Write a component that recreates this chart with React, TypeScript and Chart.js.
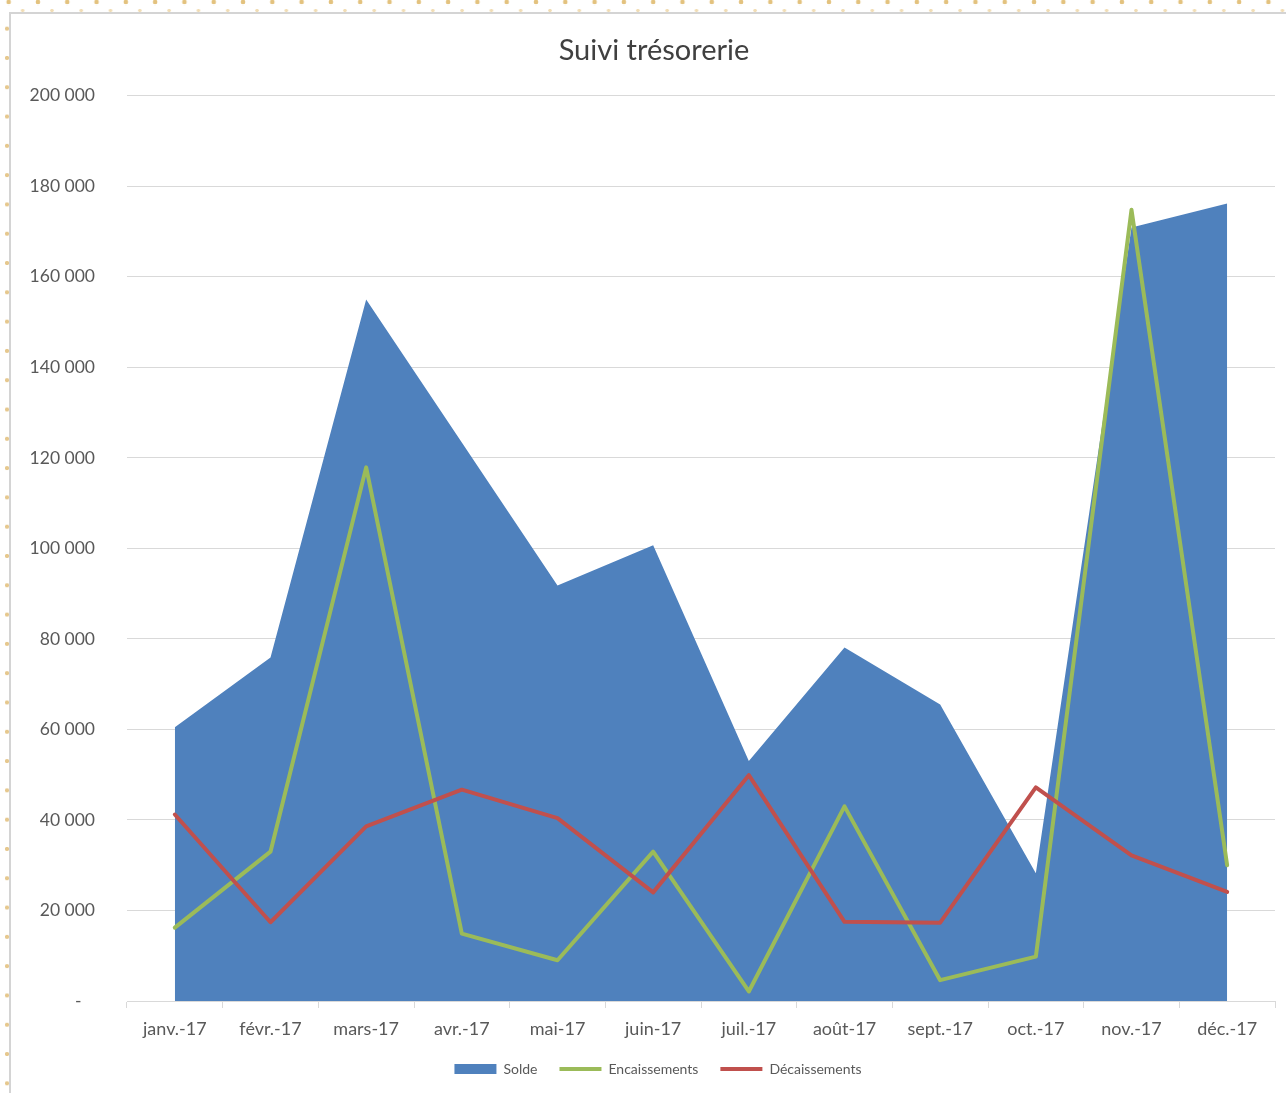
import React, { useEffect, useRef } from "react";
import { Chart, registerables } from "chart.js";

Chart.register(...registerables);

const categories = [
  "janv.-17", "févr.-17", "mars-17", "avr.-17", "mai-17", "juin-17",
  "juil.-17", "août-17", "sept.-17", "oct.-17", "nov.-17", "déc.-17",
];
const solde = [60500, 75900, 155000, 123400, 91800, 100700, 53000, 78100, 65500, 28200, 170900, 176200];
const encaissements = [16200, 33000, 117900, 14900, 9000, 33000, 2100, 43000, 4600, 9800, 174800, 30000];
const decaissements = [41200, 17400, 38600, 46700, 40400, 24000, 49900, 17500, 17300, 47200, 32200, 24100];
const seriesNames = ["Solde", "Encaissements", "Décaissements"];
const yMin = 0;
const yMax = 200000;
const yStep = 20000;

const FONT = "Lato, 'Open Sans', sans-serif";

function fmt(v: number): string {
  if (v === 0) return "-   ";
  return String(v).replace(/\B(?=(\d{3})+(?!\d))/g, " ");
}

// Excel centres title and legend over the whole chart object, not over the plot box
const centerShift = {
  id: "centerShift",
  afterLayout(chart: any) {
    const lg = chart.legend;
    if (lg) {
      lg.left += 15;
      lg.right += 15;
    }
    const tb = chart.titleBlock;
    if (tb) {
      tb.left += 11;
      tb.right += 11;
    }
  },
};

export default function App() {
  const ref = useRef<HTMLCanvasElement | null>(null);
  useEffect(() => {
    if (!ref.current) return;
    const chart = new Chart(ref.current, {
      type: "line",
      plugins: [centerShift],
      data: {
        labels: categories,
        datasets: [
          {
            label: seriesNames[0],
            data: solde,
            fill: "origin",
            backgroundColor: "#4F81BD",
            borderColor: "#4F81BD",
            borderWidth: 0,
            pointRadius: 0,
            tension: 0,
            order: 3,
          },
          {
            label: seriesNames[1],
            data: encaissements,
            fill: false,
            borderColor: "#9BBB59",
            backgroundColor: "#9BBB59",
            borderWidth: 4,
            borderJoinStyle: "round",
            borderCapStyle: "round",
            pointRadius: 0,
            tension: 0,
            order: 2,
          },
          {
            label: seriesNames[2],
            data: decaissements,
            fill: false,
            borderColor: "#C0504D",
            backgroundColor: "#C0504D",
            borderWidth: 4,
            borderJoinStyle: "round",
            borderCapStyle: "round",
            pointRadius: 0,
            tension: 0,
            order: 1,
          },
        ],
      },
      options: {
        responsive: false,
        animation: false,
        layout: { padding: { left: 0, right: 11, top: 0, bottom: 7 } },
        plugins: {
          title: {
            display: true,
            text: "Suivi trésorerie",
            color: "#404040",
            font: { family: FONT, size: 29, weight: "normal" },
            padding: { top: 19, bottom: 28 },
          },
          legend: {
            position: "bottom",
            labels: {
              usePointStyle: true,
              pointStyleWidth: 42,
              boxHeight: 10,
              color: "#595959",
              font: { family: FONT, size: 14 },
              padding: 22,
              sort: (a: any, b: any) => a.datasetIndex - b.datasetIndex,
              generateLabels: (chart: any) => {
                const ds = chart.data.datasets;
                return ds.map((d: any, i: number) => ({
                  text: d.label,
                  datasetIndex: i,
                  fillStyle: d.backgroundColor,
                  strokeStyle: d.borderColor,
                  lineWidth: i === 0 ? 0 : 4,
                  pointStyle: i === 0 ? "rect" : "line",
                  hidden: false,
                  fontColor: "#595959",
                }));
              },
            },
          },
          tooltip: { enabled: false },
        },
        scales: {
          x: {
            offset: true,
            grid: {
              offset: true,
              drawOnChartArea: false,
              drawTicks: true,
              tickLength: 7,
              color: "#D9D9D9",
            },
            border: { display: true, color: "#D9D9D9", width: 1 },
            ticks: {
              color: "#595959",
              font: { family: FONT, size: 18 },
              padding: 10,
              maxRotation: 0,
              autoSkip: false,
            },
            afterFit: (s: any) => {
              s.height = 39;
            },
          },
          y: {
            min: yMin,
            max: yMax,
            grid: { color: "#D9D9D9", drawTicks: false, lineWidth: 1 },
            border: { display: false },
            ticks: {
              stepSize: yStep,
              color: "#595959",
              font: { family: FONT, size: 17.5 },
              padding: 32,
              callback: (v: any) => fmt(Number(v)),
            },
            afterFit: (s: any) => {
              s.width = 116;
            },
          },
        },
      },
    });
    return () => chart.destroy();
  }, []);

  const dotsTop: React.CSSProperties = {
    position: "absolute",
    left: 0,
    top: 0,
    width: 1286,
    height: 6,
    backgroundImage: "radial-gradient(circle, #E3C27E 2px, rgba(255,255,255,0) 2.6px)",
    backgroundSize: "29.3px 6px",
    backgroundPosition: "-6px -1px",
  };
  const dotsTop2: React.CSSProperties = {
    position: "absolute",
    left: 0,
    top: 8,
    width: 1286,
    height: 5,
    backgroundImage: "radial-gradient(circle, #F1DDB5 1.4px, rgba(255,255,255,0) 2px)",
    backgroundSize: "29.3px 5px",
    backgroundPosition: "8px 0px",
  };
  const dotsLeft: React.CSSProperties = {
    position: "absolute",
    left: 4,
    top: 14,
    width: 6,
    height: 1079,
    backgroundImage: "radial-gradient(circle, #E6C88E 1.8px, rgba(255,255,255,0) 2.4px)",
    backgroundSize: "6px 29.3px",
    backgroundPosition: "0px 0px",
  };

  return (
    <div style={{ position: "absolute", left: 0, top: 0, width: 1286, height: 1093, background: "#fff", overflow: "hidden" }}>
      <div style={dotsTop} />
      <div style={dotsTop2} />
      <div style={dotsLeft} />
      <div
        style={{
          position: "absolute",
          left: 9,
          top: 12,
          width: 1286,
          height: 1093,
          borderLeft: "2px solid #D4D4D4",
          borderTop: "2px solid #D4D4D4",
          boxSizing: "border-box",
          background: "#fff",
        }}
      />
      <canvas
        ref={ref}
        width={1275}
        height={1079}
        style={{ position: "absolute", left: 11, top: 14, width: 1275, height: 1079 }}
      />
    </div>
  );
}
